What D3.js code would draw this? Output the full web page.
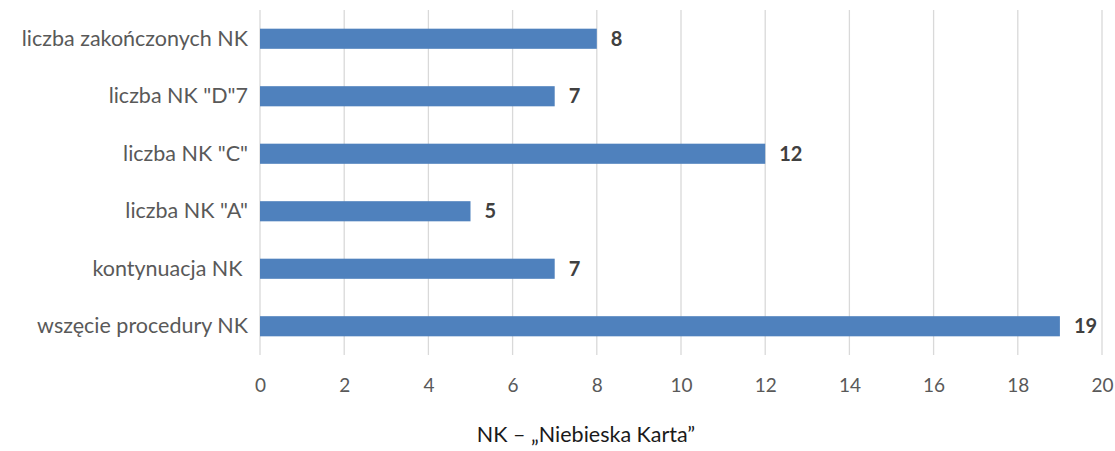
<!DOCTYPE html>
<html>
<head>
<meta charset="utf-8">
<script src="https://cdn.jsdelivr.net/npm/d3@7"></script>
<style>
  body { margin: 0; background: #fff; }
  svg { display: block; font-family: Lato, sans-serif; }
</style>
</head>
<body>
<div id="chart"></div>
<script>
// categories top to bottom, as in the picture
const categories = [
  "liczba zakończonych NK",
  "liczba NK \"D\"7",
  "liczba NK \"C\"",
  "liczba NK \"A\"",
  "kontynuacja NK ",
  "wszęcie procedury NK"
];
const values = [8, 7, 12, 5, 7, 19];
const xTicks = [0, 2, 4, 6, 8, 10, 12, 14, 16, 18, 20];
const caption = "NK – „Niebieska Karta”";

const width = 1115, height = 451;
const margin = { top: 10, right: 13, bottom: 96, left: 260 };

const data = categories.map((c, i) => ({ name: c, value: values[i] }));

const svg = d3.select("#chart").append("svg")
  .attr("width", width)
  .attr("height", height);

const x = d3.scaleLinear()
  .domain([0, 20])
  .range([margin.left, width - margin.right]);

const y = d3.scaleBand()
  .domain(categories)
  .range([margin.top, height - margin.bottom])
  .paddingInner(0.65)
  .paddingOuter(0.325);

// vertical grid
svg.append("g")
  .selectAll("line")
  .data(xTicks)
  .join("line")
  .attr("x1", d => x(d)).attr("x2", d => x(d))
  .attr("y1", margin.top).attr("y2", height - margin.bottom)
  .attr("stroke", "#d9d9d9")
  .attr("stroke-width", 1.3);

// x tick labels
svg.append("g")
  .attr("transform", `translate(0, ${height - margin.bottom})`)
  .call(d3.axisBottom(x).tickValues(xTicks).tickSize(0).tickPadding(24))
  .call(g => g.select(".domain").remove())
  .selectAll("text")
  .attr("font-size", "19px")
  .attr("font-family", "Lato, sans-serif")
  .attr("fill", "#595959");

// category labels
svg.append("g")
  .attr("transform", `translate(${margin.left}, 0)`)
  .call(d3.axisLeft(y).tickSize(0).tickPadding(12))
  .call(g => g.select(".domain").remove())
  .selectAll("text")
  .style("white-space", "pre")
  .attr("font-size", "21.5px")
  .attr("font-family", "Lato, sans-serif")
  .attr("fill", "#595959");

// bars
svg.append("g")
  .selectAll("rect")
  .data(data)
  .join("rect")
  .attr("x", x(0))
  .attr("y", d => y(d.name))
  .attr("width", d => x(d.value) - x(0))
  .attr("height", y.bandwidth())
  .attr("fill", "#4f81bd");

// value labels
svg.append("g")
  .selectAll("text")
  .data(data)
  .join("text")
  .attr("x", d => x(d.value) + 14)
  .attr("y", d => y(d.name) + y.bandwidth() / 2)
  .attr("dy", "0.36em")
  .attr("font-size", "20px")
  .attr("font-weight", "bold")
  .attr("fill", "#404040")
  .text(d => d.value);

// caption
svg.append("text")
  .attr("x", 586)
  .attr("y", 442)
  .attr("text-anchor", "middle")
  .attr("font-size", "21.5px")
  .attr("fill", "#1a1a1a")
  .text(caption);
</script>
</body>
</html>
